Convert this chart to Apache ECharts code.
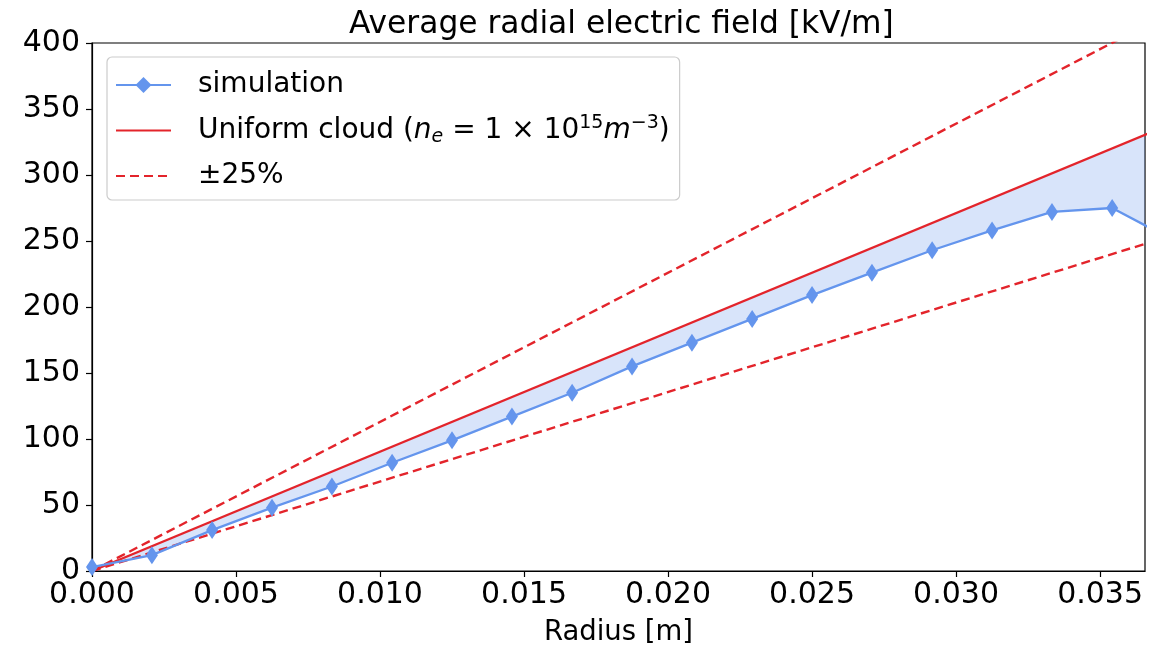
<!DOCTYPE html>
<html>
<head>
<meta charset="utf-8">
<script src="https://cdn.jsdelivr.net/npm/echarts@6/dist/echarts.min.js"></script>
<style>html,body{margin:0;padding:0;background:#fff;}#c{width:1174px;height:652px;}</style>
</head>
<body>
<div id="c"></div>
<script>
// Data
var radius = [0, 0.00208, 0.00417, 0.00625, 0.00833, 0.01042, 0.0125, 0.01458, 0.01667, 0.01875,
              0.02083, 0.02292, 0.025, 0.02708, 0.02917, 0.03125, 0.03333, 0.03542, 0.0375];
var simulation = [3, 12, 31, 48, 64, 82, 99, 117, 135, 155, 173, 191, 209, 226, 243, 258, 272, 275, 251];
// straight lines given by their end points [radius, field]
var uniformLine = [[0, 0], [0.0375, 338.9]];
var plus25Line = [[0, 0], [0.0375, 423.6]];
var minus25Line = [[0, 0], [0.0375, 254.2]];
var xTicks = [0, 0.005, 0.01, 0.015, 0.02, 0.025, 0.03, 0.035];
var yTicks = [0, 50, 100, 150, 200, 250, 300, 350, 400];

var FONT = 'DejaVu Sans';
var RED = '#e3242b';
var BLUE = '#6495ed';

var simData = radius.map(function (r, i) { return [r, simulation[i]]; });

var chart = echarts.init(document.getElementById('c'), null, {renderer: 'canvas'});
chart.setOption({
  animation: false,
  backgroundColor: '#fff',
  title: {
    text: 'Average radial electric field [kV/m]',
    left: 344, top: 4,
    textStyle: {fontFamily: FONT, fontSize: 31.3, fontWeight: 'normal', color: '#000'}
  },
  grid: {left: 92, right: 29, top: 43, bottom: 80, show: true, borderColor: '#000', borderWidth: 1.2, containLabel: false},
  legend: {
    orient: 'vertical',
    left: 107, top: 57,
    padding: [14, 10, 10, 8],
    itemWidth: 55, itemHeight: 20, itemGap: 15,
    borderColor: '#cccccc', borderWidth: 1.2, borderRadius: 5,
    backgroundColor: 'rgba(255,255,255,0.85)',
    data: [
      {name: 'simulation'},
      {name: 'uniform', itemStyle: {opacity: 0}},
      {name: 'pm25', itemStyle: {opacity: 0}}
    ],
    formatter: function (name) {
      if (name === 'simulation') return '{a|simulation}';
      if (name === 'uniform') return '{a|Uniform cloud (}{i|n}{sub|e}{a| = 1 × 10}{sup|15}{i|m}{sup|−3}{a|)}';
      return '{a|±25%}';
    },
    textStyle: {
      fontFamily: FONT, fontSize: 28, color: '#000', padding: [0, 0, 0, 22],
      rich: {
        a: {fontFamily: FONT, fontSize: 28, color: '#000'},
        i: {fontFamily: FONT, fontSize: 28, fontStyle: 'italic', color: '#000'},
        sub: {fontFamily: FONT, fontSize: 19, fontStyle: 'italic', color: '#000', verticalAlign: 'bottom', padding: [12, 0, 0, 0]},
        sup: {fontFamily: FONT, fontSize: 19, color: '#000', verticalAlign: 'top', padding: [0, 0, 14, 0]}
      }
    }
  },
  xAxis: {
    type: 'value', min: 0, max: 0.03656, interval: 0.005,
    name: 'Radius [m]', nameLocation: 'middle', nameGap: 48,
    nameTextStyle: {fontFamily: FONT, fontSize: 27.5, color: '#000'},
    axisLine: {show: true, onZero: false, lineStyle: {color: '#000', width: 1.2}},
    axisTick: {show: true, inside: false, length: 6, lineStyle: {color: '#000', width: 1.2}},
    axisLabel: {
      fontFamily: FONT, fontSize: 30, color: '#000', margin: 9, showMaxLabel: false,
      formatter: function (v) { return xTicks.indexOf(+v.toFixed(3)) >= 0 ? v.toFixed(3) : ''; }
    },
    splitLine: {show: false}
  },
  yAxis: {
    type: 'value', min: 0, max: 400, interval: 50,
    axisLine: {show: true, onZero: false, lineStyle: {color: '#000', width: 1.2}},
    axisTick: {show: true, inside: false, length: 6, lineStyle: {color: '#000', width: 1.2}},
    axisLabel: {
      fontFamily: FONT, fontSize: 30, color: '#000', margin: 12,
      formatter: function (v) { return yTicks.indexOf(v) >= 0 ? String(v) : ''; }
    },
    splitLine: {show: false}
  },
  series: [
    {
      type: 'custom',
      name: 'fill',
      clip: true,
      z: 1,
      silent: true,
      data: [[0, 0]],
      renderItem: function (params, api) {
        var pts = simData.map(function (d) { return api.coord(d); });
        pts.push(api.coord(uniformLine[1]));
        pts.push(api.coord(uniformLine[0]));
        return {
          type: 'polygon',
          shape: {points: pts},
          style: {fill: 'rgba(100,149,237,0.25)', stroke: null}
        };
      }
    },
    {
      type: 'line', name: 'simulation', z: 4,
      data: simData,
      symbol: 'diamond', symbolSize: [12, 18], showAllSymbol: true,
      itemStyle: {color: BLUE},
      lineStyle: {color: BLUE, width: 2.3}
    },
    {
      type: 'line', name: 'uniform', z: 3,
      data: uniformLine, symbol: 'none',
      itemStyle: {color: RED},
      lineStyle: {color: RED, width: 2.4}
    },
    {
      type: 'line', name: 'pm25', z: 3,
      data: plus25Line, symbol: 'none',
      itemStyle: {color: RED},
      lineStyle: {color: RED, width: 2.4, type: [9, 5]}
    },
    {
      type: 'line', name: 'pm25', z: 3,
      data: minus25Line, symbol: 'none',
      itemStyle: {color: RED},
      lineStyle: {color: RED, width: 2.4, type: [9, 5]}
    }
  ]
});
</script>
</body>
</html>
